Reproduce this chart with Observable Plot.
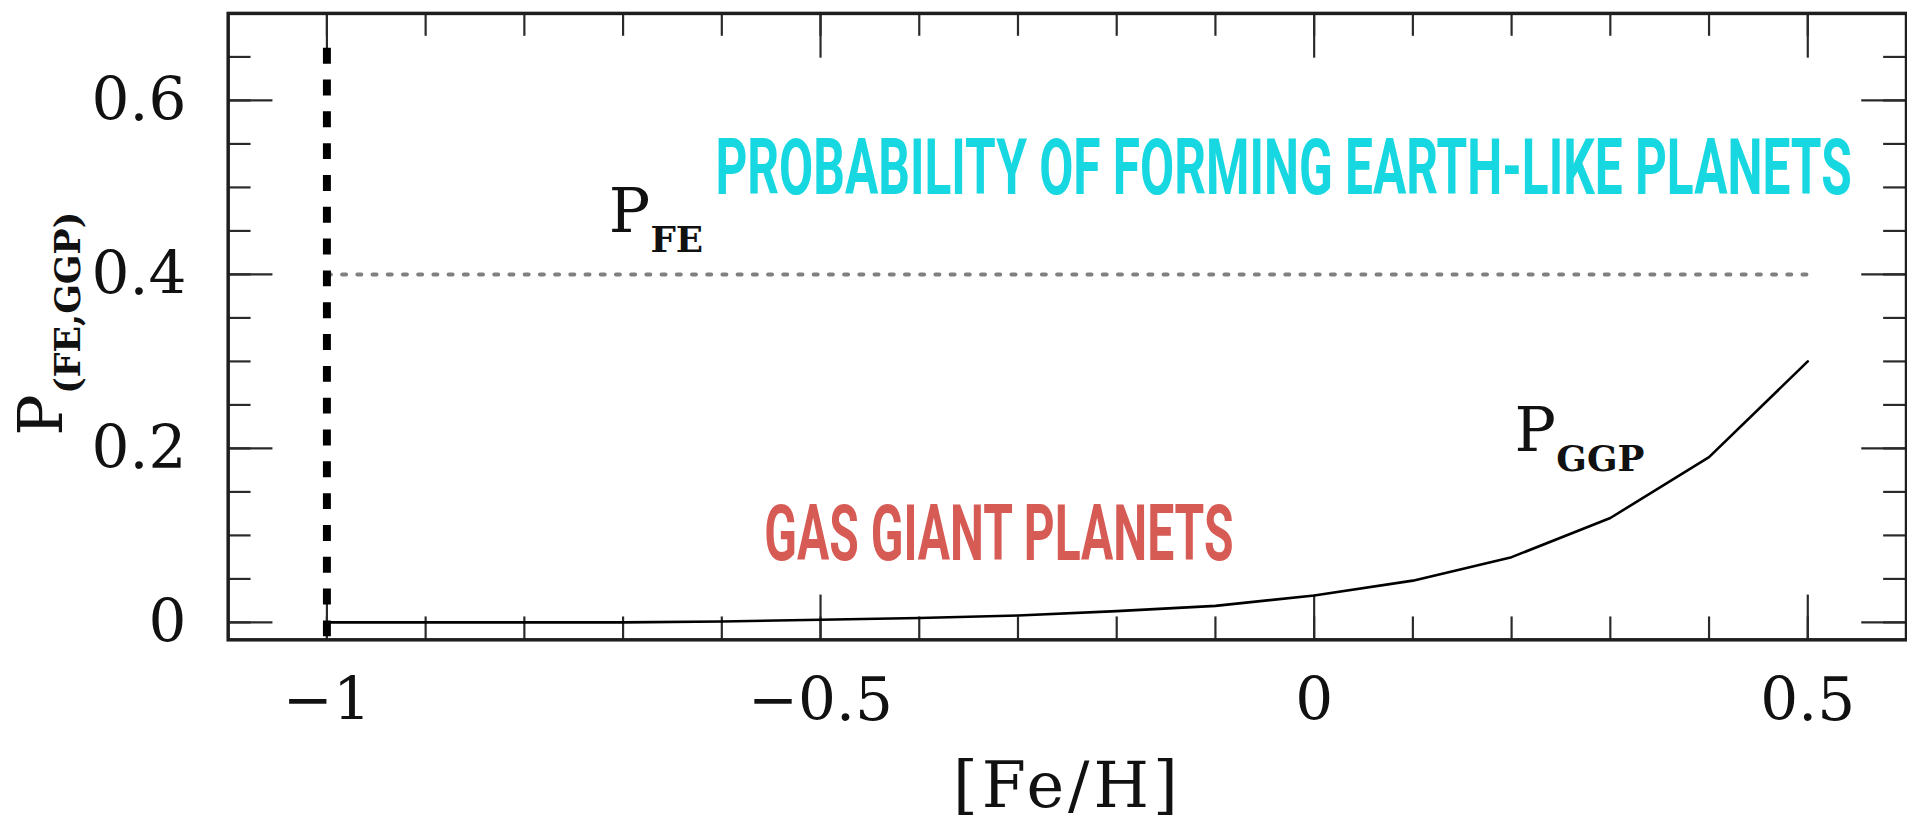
<!DOCTYPE html>
<html><head><meta charset="utf-8">
<script src="https://cdn.jsdelivr.net/npm/d3@7"></script>
<script src="https://cdn.jsdelivr.net/npm/@observablehq/plot@0.6"></script>
<style>
html,body{margin:0;padding:0;background:#fff;overflow:hidden;}
#chart svg{display:block;}
</style></head><body><div id="chart"></div>
<script>
// ---- data ----
const feH  = [-1.0,-0.9,-0.8,-0.7,-0.6,-0.5,-0.4,-0.3,-0.2,-0.1,0.0,0.1,0.2,0.3,0.4,0.5];
const pGGP = [0.000,0.000,0.000,0.000,0.001,0.003,0.005,0.008,0.013,0.019,0.031,0.048,0.075,0.120,0.190,0.300];
const pFE  = [0.4,0.4,0.4,0.4,0.4,0.4,0.4,0.4,0.4,0.4,0.4,0.4,0.4,0.4,0.4,0.4];
const limitFeH = [-1];
const xMajor = [-1,-0.5,0,0.5];
const xMajorLabels = ["−1","−0.5","0","0.5"];
const xMinor = [-1.0,-0.9,-0.8,-0.7,-0.6,-0.5,-0.4,-0.3,-0.2,-0.1,0.0,0.1,0.2,0.3,0.4,0.5];
const yMajor = [0,0.2,0.4,0.6];
const yMajorLabels = ["0","0.2","0.4","0.6"];
const yMinor = [0,0.05,0.1,0.15,0.2,0.25,0.3,0.35,0.4,0.45,0.5,0.55,0.6,0.65];
const xLabel = "[Fe/H]";
const yLabelMain = "P";
const yLabelSub = "(FE,GGP)";
const curveLabels = [
  {main: "P", sub: "FE", x: -0.7146, y: 0.4486},
  {main: "P", sub: "GGP", x: 0.203, y: 0.197}
];
const banners = [
  {text: "PROBABILITY OF FORMING EARTH-LIKE PLANETS", x: -0.6065, y: 0.492, color: "#17d7e0", len: 1143},
  {text: "GAS GIANT PLANETS", x: -0.557, y: 0.0718, color: "#d75b55", len: 472}
];

const curveData = feH.map((x, i) => ({x, ggp: pGGP[i], fe: pFE[i]}));

const W = 1918, H = 828, mL = 229, mR = 1, mT = 13, mB = 185;
const pw = W - mL - mR, ph = H - mT - mB;
const tickCol = "#2a2a2a";
const serif = "DejaVu Serif";
const bannerFont = 78;

const plot = Plot.plot({
  width: W, height: H,
  marginLeft: mL, marginRight: mR, marginTop: mT, marginBottom: mB,
  x: {domain: [-1.1, 0.6]},
  y: {domain: [-0.02, 0.7]},
  style: {fontFamily: serif, background: "#fff", color: "#000"},
  marks: [
    // minor / major ticks, inward on all four sides
    Plot.tickY(yMinor, {y: d => d, insetRight: pw - 23, stroke: tickCol, strokeWidth: 2.2}),
    Plot.tickY(yMajor, {y: d => d, insetRight: pw - 45, stroke: tickCol, strokeWidth: 2.2}),
    Plot.tickY(yMinor, {y: d => d, insetLeft: pw - 23, stroke: tickCol, strokeWidth: 2.2}),
    Plot.tickY(yMajor, {y: d => d, insetLeft: pw - 45, stroke: tickCol, strokeWidth: 2.2}),
    Plot.tickX(xMinor, {x: d => d, insetTop: ph - 23, stroke: tickCol, strokeWidth: 2.2}),
    Plot.tickX(xMajor, {x: d => d, insetTop: ph - 45, stroke: tickCol, strokeWidth: 2.2}),
    Plot.tickX(xMinor, {x: d => d, insetBottom: ph - 23, stroke: tickCol, strokeWidth: 2.2}),
    Plot.tickX(xMajor, {x: d => d, insetBottom: ph - 45, stroke: tickCol, strokeWidth: 2.2}),
    // P_FE dotted line
    Plot.line(curveData, {x: "x", y: "fe", stroke: "#808080", strokeWidth: 4, strokeDasharray: "4,11.3"}),
    // P_GGP curve
    Plot.line(curveData, {x: "x", y: "ggp", stroke: "#000", strokeWidth: 2.6}),
    // dashed limit line
    Plot.ruleX(limitFeH, {x: d => d, insetTop: 35, stroke: "#000", strokeWidth: 8, strokeDasharray: "16,16"}),
    // frame
    Plot.frame({stroke: "#1e1e1e", strokeWidth: 3.5}),
    // axes labels
    Plot.axisY(yMajor, {tickSize: 0, tickPadding: 42, fontSize: 60, label: null, fill: "#111",
      tickFormat: d => yMajorLabels[yMajor.indexOf(d)]}),
    Plot.axisX(xMajor, {tickSize: 0, tickPadding: 38, fontSize: 60, label: null, fill: "#111",
      tickFormat: d => xMajorLabels[xMajor.indexOf(d)]}),
    Plot.text([xLabel], {text: d => d, frameAnchor: "bottom", dy: 148, lineAnchor: "middle", fontSize: 64, fill: "#111"}),
    Plot.text([yLabelMain], {text: d => d, frameAnchor: "left", dx: -187, dy: 89, rotate: -90, lineAnchor: "middle", textAnchor: "middle", fontSize: 62, fill: "#111"}),
    Plot.text([yLabelSub], {text: d => d, frameAnchor: "left", dx: -160, dy: -24, rotate: -90, lineAnchor: "middle", textAnchor: "middle", fontSize: 35, fontWeight: "bold", fill: "#111"}),
    // curve labels
    Plot.text(curveLabels, {x: "x", y: "y", text: "main", textAnchor: "start", lineAnchor: "bottom", fontSize: 62, fill: "#111"}),
    Plot.text(curveLabels, {x: "x", y: "y", text: "sub", textAnchor: "start", lineAnchor: "bottom", dx: 42, dy: 20, fontSize: 36, fontWeight: "bold", fill: "#111"}),
    // banners
    Plot.text(banners, {x: "x", y: "y", text: "text", fill: "color", textAnchor: "start", lineAnchor: "bottom",
      fontSize: bannerFont, fontWeight: "bold", fontFamily: "Liberation Sans Narrow, Roboto, sans-serif"})
  ]
});

document.getElementById("chart").appendChild(plot);

// [Fe/H] is set a little wider in the reference
d3.select(plot).selectAll("text").filter(function() { return this.textContent === xLabel; })
  .style("letter-spacing", "4px");

// condense the banner texts to their measured lengths: shrink the font to fit the width,
// then stretch vertically back to the measured cap height
d3.select(plot).selectAll("text").each(function() {
  const b = banners.find(b => b.text === this.textContent);
  if (!b) return;
  const w0 = this.getComputedTextLength();
  if (!(w0 > 0)) return;
  const f1 = bannerFont * b.len / w0;
  const s = bannerFont / f1;
  this.setAttribute("font-size", f1);
  this.style.fontSize = f1 + "px";
  const t = this.getAttribute("transform") || "";
  this.setAttribute("transform", t + ` scale(1,${s})`);
});
</script>
</body></html>
